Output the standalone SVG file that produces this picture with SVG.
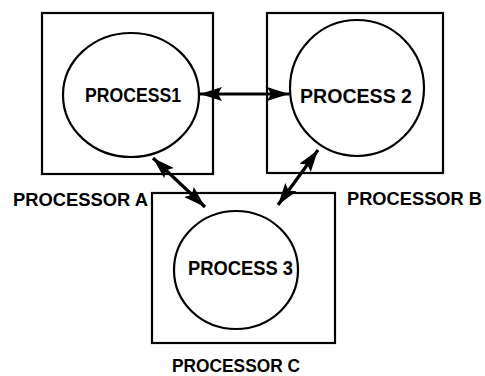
<svg xmlns="http://www.w3.org/2000/svg" width="485" height="376" viewBox="0 0 485 376">
  <style>
    .box { fill: none; stroke: #000; stroke-width: 2.2; }
    .proc { fill: #fff; stroke: #000; stroke-width: 2.2; }
    .lbl { font-family: "Liberation Sans", Arial, sans-serif; font-weight: bold; font-size: 18px; fill: #000; }
    .plbl { font-family: "Liberation Sans", Arial, sans-serif; font-weight: bold; font-size: 20px; fill: #000; }
    .conn { fill: none; stroke: #000; stroke-width: 3.2; marker-start: url(#ah); marker-end: url(#ah); }
  </style>
  <defs>
    <marker id="ah" markerUnits="userSpaceOnUse" markerWidth="24" markerHeight="16" refX="22" refY="7" orient="auto-start-reverse">
      <path d="M0,0 L22,7 L0,14 L4,7 Z" fill="#000"/>
    </marker>
  </defs>
  <rect width="485" height="376" fill="#fff"/>

  <g id="processorA">
    <rect class="box" x="42" y="13" width="171" height="161"/>
    <text class="lbl" x="13" y="206" textLength="135" lengthAdjust="spacingAndGlyphs">PROCESSOR A</text>
  </g>
  <g id="processorB">
    <rect class="box" x="267" y="13" width="176" height="160"/>
    <text class="lbl" x="347" y="205" textLength="135" lengthAdjust="spacingAndGlyphs">PROCESSOR B</text>
  </g>
  <g id="processorC">
    <rect class="box" x="152" y="193" width="183" height="150"/>
    <text class="lbl" x="172" y="372" textLength="128" lengthAdjust="spacingAndGlyphs">PROCESSOR C</text>
  </g>

  <g id="process1">
    <ellipse class="proc" cx="131" cy="95" rx="68" ry="62"/>
    <text class="plbl" x="85" y="102" textLength="96" lengthAdjust="spacingAndGlyphs">PROCESS1</text>
  </g>
  <g id="process2">
    <ellipse class="proc" cx="357" cy="88" rx="67" ry="68"/>
    <text class="plbl" x="300" y="103" textLength="112" lengthAdjust="spacingAndGlyphs">PROCESS 2</text>
  </g>
  <g id="process3">
    <ellipse class="proc" cx="236" cy="270" rx="62" ry="59"/>
    <text class="plbl" x="188" y="275" textLength="105" lengthAdjust="spacingAndGlyphs">PROCESS 3</text>
  </g>

  <g id="connectors">
    <line class="conn" x1="200" y1="94" x2="289" y2="94"/>
    <line class="conn" x1="153" y1="158" x2="205" y2="207"/>
    <line class="conn" x1="318" y1="150" x2="278" y2="205"/>
  </g>
</svg>
